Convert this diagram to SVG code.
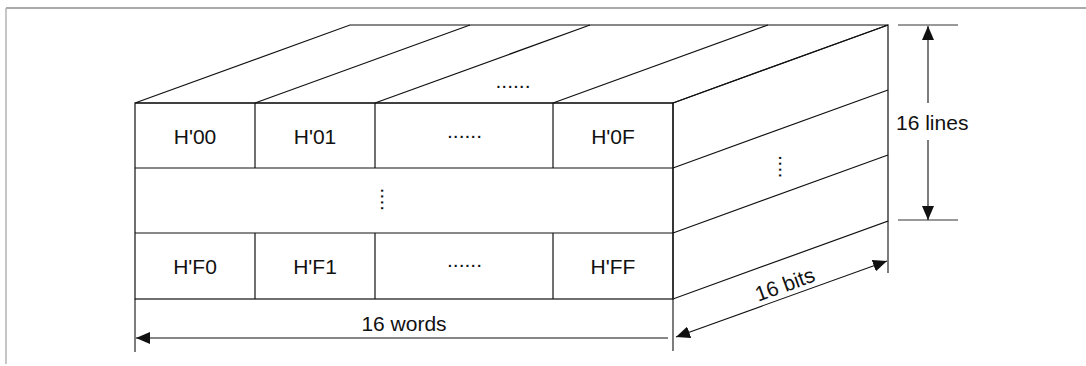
<svg xmlns="http://www.w3.org/2000/svg" width="1086" height="366" viewBox="0 0 1086 366">
  <style>
    .edge { fill: none; stroke: #111; stroke-width: 1.2; }
    .ext { fill: none; stroke: #111; stroke-width: 1.1; }
    .ext-gray { fill: none; stroke: #777; stroke-width: 1.5; }
    .dim { fill: none; stroke: #111; stroke-width: 1.1; }
    .label { font-family: "Liberation Sans", Arial, sans-serif; font-size: 21px; fill: #111; }
    .mid { text-anchor: middle; }
  </style>
  <defs>
    <marker id="arrow" viewBox="0 0 14 12" refX="14" refY="6" markerWidth="14" markerHeight="12" markerUnits="userSpaceOnUse" orient="auto-start-reverse">
      <path d="M0,0 L14,6 L0,12 Z" fill="#111"/>
    </marker>
  </defs>

  <rect width="1086" height="366" fill="#fff"/>

  <!-- page frame -->
  <g id="frame">
    <line x1="6" y1="8" x2="1086" y2="8" stroke="#555" stroke-width="1.2"/>
    <line x1="6" y1="8" x2="6" y2="364" stroke="#b8b8b8" stroke-width="1.6"/>
  </g>

  <!-- top face of the block -->
  <g id="top-face">
    <polygon class="edge" points="135,103 350,25 888,25 673,103"/>
    <line class="edge" x1="255" y1="103" x2="470" y2="25"/>
    <line class="edge" x1="375" y1="103" x2="590" y2="25"/>
    <line class="edge" x1="553" y1="103" x2="768" y2="25"/>
    <text class="label mid" x="513" y="88">......</text>
  </g>

  <!-- right face of the block -->
  <g id="side-face">
    <polygon class="edge" points="673,103 888,25 888,221 673,299"/>
    <line class="edge" x1="673" y1="168" x2="888" y2="90"/>
    <line class="edge" x1="673" y1="233" x2="888" y2="155"/>
    <text class="label mid" transform="translate(778.9,166.7) rotate(90)" x="0" y="0">....</text>
  </g>

  <!-- front face: word cells -->
  <g id="front-face">
    <rect class="edge" x="135" y="103" width="538" height="196"/>
    <line class="edge" x1="135" y1="168" x2="673" y2="168"/>
    <line class="edge" x1="135" y1="233" x2="673" y2="233"/>
    <line class="edge" x1="255" y1="103" x2="255" y2="168"/>
    <line class="edge" x1="375" y1="103" x2="375" y2="168"/>
    <line class="edge" x1="553" y1="103" x2="553" y2="168"/>
    <line class="edge" x1="255" y1="233" x2="255" y2="299"/>
    <line class="edge" x1="375" y1="233" x2="375" y2="299"/>
    <line class="edge" x1="553" y1="233" x2="553" y2="299"/>
  </g>

  <g id="cell-00"><text class="label mid" x="195" y="144">H'00</text></g>
  <g id="cell-01"><text class="label mid" x="315" y="144">H'01</text></g>
  <g id="cell-0x"><text class="label mid" x="464.5" y="137.5">......</text></g>
  <g id="cell-0F"><text class="label mid" x="613" y="144">H'0F</text></g>
  <g id="row-mid"><text class="label mid" transform="translate(380.6,199.4) rotate(90)" x="0" y="0">....</text></g>
  <g id="cell-F0"><text class="label mid" x="195" y="274">H'F0</text></g>
  <g id="cell-F1"><text class="label mid" x="315" y="274">H'F1</text></g>
  <g id="cell-Fx"><text class="label mid" x="464.5" y="266.5">......</text></g>
  <g id="cell-FF"><text class="label mid" x="613" y="274">H'FF</text></g>

  <!-- dimension lines -->
  <g id="connectors">
    <!-- extension lines -->
    <line class="ext" x1="135" y1="299" x2="135" y2="352"/>
    <line class="ext" x1="673" y1="299" x2="673" y2="351"/>
    <line class="ext" x1="888" y1="221" x2="888" y2="273"/>
    <line class="ext-gray" x1="898" y1="25" x2="958" y2="25"/>
    <line class="ext-gray" x1="898" y1="220" x2="958" y2="220"/>

    <!-- 16 words -->
    <line class="dim" x1="668" y1="338" x2="136" y2="338" marker-end="url(#arrow)"/>
    <!-- 16 lines -->
    <line class="dim" x1="928" y1="103" x2="928" y2="26" marker-end="url(#arrow)"/>
    <line class="dim" x1="928" y1="140" x2="928" y2="220" marker-end="url(#arrow)"/>
    <!-- 16 bits -->
    <line class="dim" x1="676" y1="337" x2="887" y2="261" marker-start="url(#arrow)" marker-end="url(#arrow)"/>
  </g>

  <g id="dim-labels">
    <text class="label mid" x="404" y="331">16 words</text>
    <text class="label" x="896" y="129.5">16 lines</text>
    <text class="label mid" transform="translate(789,296) rotate(-19.9)" x="0" y="-5">16 bits</text>
  </g>
</svg>
